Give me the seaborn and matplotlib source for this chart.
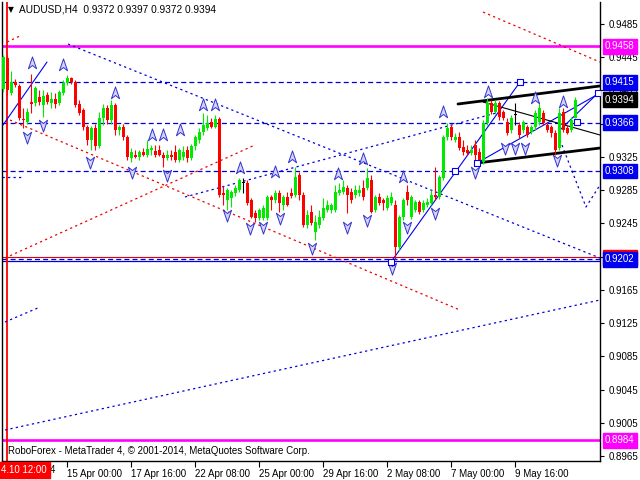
import numpy as np
import pandas as pd
import matplotlib
matplotlib.use("Agg")
import matplotlib.pyplot as plt
from matplotlib.path import Path
import seaborn as sns

# ---------------- data (AUDUSD H4) ----------------
opens = [0.9407,0.9444,0.9402,0.9415,0.9410,0.9371,0.9367,0.9391,0.9390,0.9397,
         0.9388,0.9399,0.9390,0.9395,0.9390,0.9402,0.9414,0.9420,0.9415,0.9389,
         0.9382,0.9361,0.9345,0.9360,0.9338,0.9372,0.9384,0.9370,0.9388,0.9357,
         0.9361,0.9349,0.9324,0.9327,0.9325,0.9331,0.9327,0.9333,0.9332,0.9333,
         0.9327,0.9324,0.9327,0.9331,0.9321,0.9325,0.9333,0.9324,0.9338,0.9345,
         0.9355,0.9360,0.9367,0.9361,0.9371,0.9282,0.9273,0.9276,0.9282,0.9285,
         0.9294,0.9294,0.9273,0.9257,0.9251,0.9251,0.9251,0.9277,0.9273,0.9282,
         0.9267,0.9277,0.9282,0.9279,0.9303,0.9279,0.9243,0.9259,0.9235,0.9243,
         0.9251,0.9261,0.9261,0.9261,0.9282,0.9283,0.9288,0.9283,0.9279,0.9282,
         0.9288,0.9288,0.9297,0.9261,0.9277,0.9273,0.9263,0.9269,0.9267,0.9217,
         0.9253,0.9283,0.9253,0.9261,0.9271,0.9261,0.9267,0.9269,0.9279,0.9277,
         0.9300,0.9349,0.9361,0.9345,0.9349,0.9337,0.9333,0.9330,0.9339,0.9331,
         0.9319,0.9366,0.9390,0.9379,0.9390,0.9379,0.9367,0.9357,0.9376,0.9363,
         0.9357,0.9361,0.9355,0.9361,0.9367,0.9378,0.9363,0.9361,0.9354,0.9336,
         0.9379,0.9360,0.9357,0.9372]
highs = [0.9448,0.9448,0.9428,0.9419,0.9413,0.9384,0.9384,0.9425,0.9410,0.9406,
         0.9406,0.9403,0.9403,0.9402,0.9406,0.9418,0.9424,0.9421,0.9418,0.9394,
         0.9384,0.9363,0.9362,0.9365,0.9379,0.9389,0.9388,0.9394,0.9390,0.9363,
         0.9365,0.9351,0.9336,0.9333,0.9333,0.9336,0.9345,0.9339,0.9339,0.9339,
         0.9331,0.9333,0.9333,0.9339,0.9336,0.9338,0.9338,0.9341,0.9351,0.9360,
         0.9378,0.9376,0.9372,0.9376,0.9373,0.9290,0.9288,0.9285,0.9291,0.9300,
         0.9300,0.9297,0.9276,0.9261,0.9263,0.9267,0.9279,0.9279,0.9285,0.9285,
         0.9279,0.9283,0.9288,0.9313,0.9307,0.9283,0.9261,0.9267,0.9255,0.9261,
         0.9276,0.9273,0.9269,0.9291,0.9294,0.9297,0.9291,0.9288,0.9291,0.9291,
         0.9297,0.9312,0.9303,0.9279,0.9282,0.9276,0.9279,0.9283,0.9273,0.9255,
         0.9276,0.9291,0.9279,0.9273,0.9273,0.9273,0.9276,0.9285,0.9313,0.9303,
         0.9351,0.9366,0.9363,0.9354,0.9355,0.9345,0.9339,0.9339,0.9345,0.9336,
         0.9370,0.9396,0.9394,0.9394,0.9392,0.9382,0.9372,0.9376,0.9390,0.9367,
         0.9370,0.9363,0.9363,0.9382,0.9390,0.9382,0.9367,0.9363,0.9357,0.9384,
         0.9384,0.9363,0.9373,0.9397]
lows = [0.9403,0.9399,0.9399,0.9409,0.9370,0.9360,0.9365,0.9378,0.9386,0.9388,
        0.9373,0.9389,0.9384,0.9384,0.9388,0.9399,0.9412,0.9413,0.9385,0.9376,
        0.9357,0.9339,0.9333,0.9333,0.9336,0.9363,0.9365,0.9365,0.9351,0.9351,
        0.9345,0.9321,0.9319,0.9324,0.9321,0.9326,0.9325,0.9327,0.9325,0.9326,
        0.9313,0.9321,0.9321,0.9319,0.9319,0.9321,0.9319,0.9321,0.9333,0.9342,
        0.9351,0.9357,0.9360,0.9360,0.9277,0.9267,0.9261,0.9265,0.9278,0.9283,
        0.9282,0.9267,0.9251,0.9247,0.9249,0.9249,0.9249,0.9261,0.9270,0.9259,
        0.9261,0.9266,0.9276,0.9277,0.9273,0.9241,0.9239,0.9243,0.9225,0.9239,
        0.9249,0.9259,0.9257,0.9259,0.9279,0.9280,0.9257,0.9269,0.9276,0.9278,
        0.9273,0.9285,0.9257,0.9259,0.9267,0.9261,0.9261,0.9267,0.9202,0.9213,
        0.9249,0.9267,0.9250,0.9259,0.9256,0.9259,0.9265,0.9267,0.9273,0.9274,
        0.9297,0.9345,0.9345,0.9343,0.9333,0.9327,0.9327,0.9327,0.9321,0.9315,
        0.9317,0.9363,0.9377,0.9377,0.9370,0.9370,0.9351,0.9354,0.9363,0.9348,
        0.9354,0.9349,0.9353,0.9357,0.9363,0.9363,0.9355,0.9349,0.9327,0.9333,
        0.9355,0.9353,0.9355,0.9372]
closes = [0.9445,0.9406,0.9415,0.9412,0.9372,0.9370,0.9379,0.9389,0.9408,0.9391,
          0.9398,0.9391,0.9395,0.9389,0.9403,0.9414,0.9420,0.9415,0.9388,0.9378,
          0.9361,0.9345,0.9360,0.9338,0.9372,0.9384,0.9370,0.9388,0.9357,0.9361,
          0.9349,0.9325,0.9331,0.9325,0.9331,0.9327,0.9335,0.9336,0.9327,0.9327,
          0.9324,0.9327,0.9325,0.9321,0.9333,0.9331,0.9324,0.9338,0.9349,0.9355,
          0.9363,0.9366,0.9361,0.9371,0.9279,0.9279,0.9285,0.9283,0.9288,0.9297,
          0.9294,0.9270,0.9253,0.9251,0.9261,0.9263,0.9277,0.9273,0.9282,0.9270,
          0.9277,0.9267,0.9278,0.9301,0.9279,0.9243,0.9255,0.9245,0.9247,0.9253,
          0.9263,0.9267,0.9267,0.9283,0.9285,0.9289,0.9279,0.9273,0.9285,0.9285,
          0.9277,0.9300,0.9259,0.9277,0.9269,0.9269,0.9276,0.9277,0.9217,0.9253,
          0.9273,0.9273,0.9277,0.9271,0.9259,0.9269,0.9271,0.9279,0.9277,0.9301,
          0.9349,0.9360,0.9349,0.9349,0.9336,0.9331,0.9330,0.9333,0.9327,0.9319,
          0.9366,0.9390,0.9379,0.9390,0.9373,0.9372,0.9354,0.9372,0.9376,0.9351,
          0.9367,0.9351,0.9361,0.9378,0.9384,0.9366,0.9357,0.9354,0.9333,0.9378,
          0.9357,0.9354,0.9370,0.9394]

tick_bars = [0, 16, 32, 48, 64, 80, 96, 112, 128]
tick_labels = ["", "15 Apr 00:00", "17 Apr 16:00", "22 Apr 08:00",
               "25 Apr 00:00", "29 Apr 16:00", "2 May 08:00", "7 May 00:00", "9 May 16:00"]
first_label_tail = "4"          # only visible end of "10 Apr 2014" beside the red box
price_ticks = [0.8965, 0.9005, 0.9045, 0.9085, 0.9125, 0.9165, 0.9205,
               0.9245, 0.9285, 0.9325, 0.9365, 0.9405, 0.9445, 0.9485]
hidden_ticks = [0.9205, 0.9365]   # covered by the level boxes in the chart

magenta_levels = [0.9458, 0.8984]
blue_levels = [0.9415, 0.9366, 0.9308, 0.9202]
red_level = 0.92045
blue_solid_level = 0.91997
current_price = 0.9394

# trend / channel lines: (bar x list, price list)
blue_dotted_lines = [
    ([16.15, 149.15], [0.94609, 0.92033]),
    ([0.4, 149.15], [0.89963, 0.91528]),
    ([0.4, 9.15], [0.91263, 0.91443]),
    ([45.4, 124.15], [0.92768, 0.93791]),
    ([139.15, 145.65, 149.15], [0.93454, 0.92647, 0.92912]),
    ([-0.3, 5.0], [0.93010, 0.93010]),
]
red_dotted_lines = [
    ([119.9, 149.15], [0.94994, 0.94392]),
    ([1.65, 114.15], [0.93694, 0.91407]),
    ([0.4, 62.9], [0.92033, 0.93394]),
    ([0.9, 4.65], [0.94633, 0.94718]),
]
blue_solid_lines = [
    ([-0.1, 10.9], [0.93634, 0.94392]),
    ([96.9, 129.15], [0.91985, 0.94152]),
    ([118.4, 149.15], [0.93177, 0.94019]),
    ([139.15, 148.65], [0.93574, 0.94019]),
]
black_thick_lines = [
    ([113.65, 149.15], [0.93887, 0.94104]),
    ([118.4, 149.15], [0.93177, 0.93357]),
]
black_thin_lines = [
    ([119.9, 149.15], [0.93911, 0.93514]),
]
square_x = [96.9, 112.9, 129.15, 118.4, 148.65, 143.4]
square_y = [0.91985, 0.93081, 0.94152, 0.93177, 0.94019, 0.93670]

up_x = [7.15, 14.9, 27.9, 37.15, 39.9, 44.15, 49.9, 52.9, 59.15, 67.9, 72.15,
        83.65, 89.9, 99.9, 109.9, 121.15, 132.9, 139.9]
up_y = [0.94381, 0.94356, 0.94020, 0.93514, 0.93514, 0.93574, 0.93875, 0.93875,
        0.93117, 0.93068, 0.93249, 0.93044, 0.93225, 0.93008, 0.93791, 0.94032,
        0.93959, 0.93911]
dn_x = [5.9, 9.9, 21.65, 32.15, 40.9, 55.9, 61.65, 64.9, 69.15, 77.15, 85.9,
        90.9, 97.15, 100.9, 107.9, 117.9, 125.4, 127.9, 130.4, 138.4]
dn_y = [0.93490, 0.93634, 0.93189, 0.93069, 0.93032, 0.92551, 0.92394, 0.92406,
        0.92515, 0.92154, 0.92406, 0.92491, 0.91913, 0.92406, 0.92575, 0.93069,
        0.93357, 0.93357, 0.93357, 0.93213]

# ---------------- style ----------------
sns.set_theme(style="white")
plt.rcParams["font.family"] = ["Liberation Sans", "DejaVu Sans"]
FS = 7.0

df = pd.DataFrame({"open": opens, "high": highs, "low": lows, "close": closes})
df["bar"] = np.arange(len(df))
df["color"] = np.where(df["close"] > df["open"], "#00ea00",
                       np.where(df["close"] < df["open"], "#ff0000", "#000000"))

fig = plt.figure(figsize=(6.4, 4.8), dpi=100)
ax = fig.add_axes([2 / 640, 19 / 480, 598 / 640, 459 / 480])
ax.set_facecolor("white")
ax.set_xlim(-0.35, 149.15)
ax.set_ylim(0.895898, 0.951148)

# horizontal levels
for lv in magenta_levels:
    ax.axhline(lv, color="#ff00ff", lw=1.9, zorder=2)
for lv in blue_levels:
    ax.axhline(lv, color="#0000dd", lw=0.9, dashes=(4, 2.5), zorder=2)
ax.axhline(red_level, color="#dd0000", lw=0.8, zorder=2)
ax.axhline(blue_solid_level, color="#0000dd", lw=0.9, zorder=2)
ax.axvline(1.0, color="#ff0000", lw=1.3, zorder=2)

for xs, ys in blue_dotted_lines:
    ax.plot(xs, ys, color="#0000dd", lw=0.9, dashes=(1.8, 2.6), zorder=2)
for xs, ys in red_dotted_lines:
    ax.plot(xs, ys, color="#ee0000", lw=0.9, dashes=(1.8, 2.6), zorder=2)
for xs, ys in blue_solid_lines:
    ax.plot(xs, ys, color="#0000ee", lw=0.8, zorder=3)
for xs, ys in black_thick_lines:
    ax.plot(xs, ys, color="black", lw=2.0, zorder=3)
for xs, ys in black_thin_lines:
    ax.plot(xs, ys, color="black", lw=0.8, zorder=3)

# candles
ax.vlines(df["bar"], df["low"], df["high"], colors=df["color"], lw=0.8, zorder=4)
body_lo = np.minimum(df["open"], df["close"])
body_h = np.maximum(np.abs(df["close"] - df["open"]), 0.00006)
ax.bar(df["bar"], body_h, bottom=body_lo, width=0.65, color=df["color"],
       linewidth=0, zorder=5)

# fractal arrows
up_path = Path([(0, 1), (0.62, -0.8), (0, -0.3), (-0.62, -0.8), (0, 1)],
               [Path.MOVETO, Path.LINETO, Path.LINETO, Path.LINETO, Path.CLOSEPOLY])
dn_path = Path([(0, -1), (0.62, 0.8), (0, 0.3), (-0.62, 0.8), (0, -1)],
               [Path.MOVETO, Path.LINETO, Path.LINETO, Path.LINETO, Path.CLOSEPOLY])
ax.scatter(up_x, up_y, marker=up_path, s=90, facecolor="#d4d4ff",
           edgecolor="#3333cc", linewidth=0.7, zorder=6)
ax.scatter(dn_x, dn_y, marker=dn_path, s=90, facecolor="#d4d4ff",
           edgecolor="#3333cc", linewidth=0.7, zorder=6)
ax.scatter(square_x, square_y, marker="s", s=14, facecolor="white",
           edgecolor="#0000ee", linewidth=0.8, zorder=7)

# axes / ticks
for s in ["left", "bottom", "right"]:
    ax.spines[s].set_visible(True)
    ax.spines[s].set_color("black")
    ax.spines[s].set_linewidth(1.0)
ax.spines["top"].set_visible(False)
ax.yaxis.tick_right()
ax.set_yticks(price_ticks)
ax.set_yticklabels(["" if p in hidden_ticks else f"{p:.4f}" for p in price_ticks],
                   fontsize=FS, color="black")
ax.tick_params(axis="y", which="major", direction="out", length=3, width=0.8,
               pad=3, colors="black", right=True, left=False)
ax.set_xticks(tick_bars)
ax.set_xticklabels(tick_labels, fontsize=FS, ha="left", color="black")
ax.tick_params(axis="x", which="major", direction="out", length=4, width=0.8,
               pad=2, colors="black", bottom=True)
ax.grid(False)

# price boxes on right axis
trans = ax.get_yaxis_transform()
def price_box(p, fc, txt=None):
    ax.text(1.0 + 5 / 598, p, txt if txt else f"{p:.4f}", transform=trans,
            fontsize=FS, color="white", va="center", ha="left", clip_on=False,
            zorder=10,
            bbox=dict(boxstyle="square,pad=0.25", fc=fc, ec=fc))
price_box(0.92037, "#ff0000", "0.9205")
price_box(0.9458, "#ff00ff")
price_box(0.8984, "#ff00ff")
for lv in blue_levels:
    price_box(lv, "#0000ee")
price_box(current_price, "black")

# texts
fig.text(8 / 640, 1 - 10 / 480, "\u25bc", fontsize=5.5, color="black",
         va="center", ha="left", family="DejaVu Sans")
fig.text(19 / 640, 1 - 10 / 480, "AUDUSD,H4  0.9372 0.9397 0.9372 0.9394",
         fontsize=FS + 0.3, color="black", va="center", ha="left")
fig.text(8 / 640, 1 - 451 / 480,
         "RoboForex - MetaTrader 4, \u00a9 2001-2014, MetaQuotes Software Corp.",
         fontsize=FS, color="black", va="center", ha="left")
fig.text(1 / 640, 1 - 470 / 480, "4.10 12:00", fontsize=FS, color="white",
         va="center", ha="left", zorder=20,
         bbox=dict(boxstyle="square,pad=0.3", fc="#ff0000", ec="#ff0000"))
fig.text(50 / 640, 1 - 470 / 480, first_label_tail, fontsize=FS, color="black",
         va="center", ha="left")

fig.savefig("out.png", dpi=100, facecolor="white")
